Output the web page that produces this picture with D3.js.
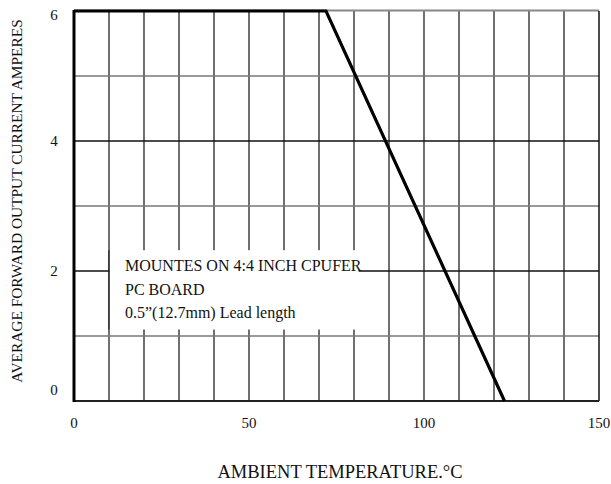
<!DOCTYPE html>
<html>
<head>
<meta charset="utf-8">
<script src="https://cdn.jsdelivr.net/npm/d3@7"></script>
<style>
  html, body { margin: 0; padding: 0; background: #fff; }
  svg { display: block; }
</style>
</head>
<body>
<svg id="chart" width="611" height="484"></svg>
<script>
// ---- data ----
const xTicks = [0, 50, 100, 150];
const yTicks = [0, 2, 4, 6];
const xGrid = [10, 20, 30, 40, 50, 60, 70, 80, 90, 100, 110, 120, 130, 140];
const yGrid = [1, 2, 3, 4, 5];
const curveTemp = [0, 72, 123];
const curveAmps = [6, 6, 0];
const noteLines = ["MOUNTES ON 4:4 INCH CPUFER", "PC BOARD", "0.5\u201D(12.7mm) Lead length"];
const xTitle = "AMBIENT TEMPERATURE.\u00B0C";
const yTitle = "AVERAGE FORWARD OUTPUT CURRENT AMPERES";

// ---- layout ----
const FONT = "'Liberation Serif', 'Times New Roman', serif";
const L = 74, R = 599, T = 11, B = 401;
const svg = d3.select("#chart").attr("font-family", FONT);
const x = d3.scaleLinear().domain([0, 150]).range([L, R]);
const y = d3.scaleLinear().domain([0, 6]).range([B, T]);

// grid
const g = svg.append("g");
g.selectAll(".vg").data(xGrid).enter().append("line")
  .attr("x1", d => x(d)).attr("x2", d => x(d))
  .attr("y1", T).attr("y2", B)
  .attr("stroke", "#222").attr("stroke-width", 1.3);
g.selectAll(".hg").data(yGrid).enter().append("line")
  .attr("y1", d => y(d)).attr("y2", d => y(d))
  .attr("x1", L).attr("x2", R)
  .attr("stroke", d => d % 2 === 0 ? "#111" : "#777")
  .attr("stroke-width", d => d % 2 === 0 ? 1.3 : 1.6);

// note box (white, covers grid)
const bx0 = x(9.9), bx1 = x(81.3), by0 = y(2.32), by1 = y(1.1);
svg.append("rect").attr("x", bx0 + 1).attr("y", by0)
  .attr("width", bx1 - bx0 - 1).attr("height", by1 - by0)
  .attr("fill", "#fff");
svg.append("line").attr("x1", x(10)).attr("x2", x(10)).attr("y1", by0).attr("y2", by1)
  .attr("stroke", "#222").attr("stroke-width", 1.3);
svg.append("g").selectAll("text").data(noteLines).enter().append("text")
  .attr("x", 125).attr("y", (d, i) => 271 + i * 23.5)
  .attr("font-family", FONT).attr("fill", "#111")
  .attr("font-size", 16).text(d => d);

// frame
svg.append("line").attr("x1", L).attr("x2", R).attr("y1", T - 0.5).attr("y2", T - 0.5)
  .attr("stroke", "#888").attr("stroke-width", 2);
svg.append("line").attr("x1", R).attr("x2", R).attr("y1", T).attr("y2", B)
  .attr("stroke", "#111").attr("stroke-width", 1.5);
svg.append("line").attr("x1", L).attr("x2", R).attr("y1", B).attr("y2", B)
  .attr("stroke", "#222").attr("stroke-width", 2);
svg.append("line").attr("x1", L).attr("x2", L).attr("y1", T - 1).attr("y2", B + 1)
  .attr("stroke", "#000").attr("stroke-width", 3);

// curve
const pts = curveTemp.map((t, i) => [t, curveAmps[i]]);
svg.append("path").datum(pts)
  .attr("d", d3.line().x(d => x(d[0])).y(d => y(d[1])))
  .attr("fill", "none").attr("stroke", "#000").attr("stroke-width", 3.2)
  .attr("stroke-linejoin", "miter");

// tick labels
svg.append("g").selectAll("text").data(xTicks).enter().append("text")
  .attr("x", d => x(d)).attr("y", 428)
  .attr("font-family", FONT).attr("fill", "#111")
  .attr("text-anchor", "middle").attr("font-size", 15).text(d => d);
svg.append("g").selectAll("text").data(yTicks).enter().append("text")
  .attr("x", 54).attr("y", d => y(d))
  .attr("dy", d => d === 0 ? -6 : (d === 6 ? 8.5 : 5))
  .attr("font-family", FONT).attr("fill", "#111")
  .attr("text-anchor", "middle").attr("font-size", 15).text(d => d);

// axis titles
svg.append("text").attr("x", 340).attr("y", 478)
  .attr("font-family", FONT).attr("fill", "#111")
  .attr("text-anchor", "middle").attr("font-size", 18.5).text(xTitle);
svg.append("text").attr("transform", "translate(22,201) rotate(-90)")
  .attr("font-family", FONT).attr("fill", "#111")
  .attr("text-anchor", "middle").attr("font-size", 15.4).text(yTitle);
</script>
</body>
</html>
